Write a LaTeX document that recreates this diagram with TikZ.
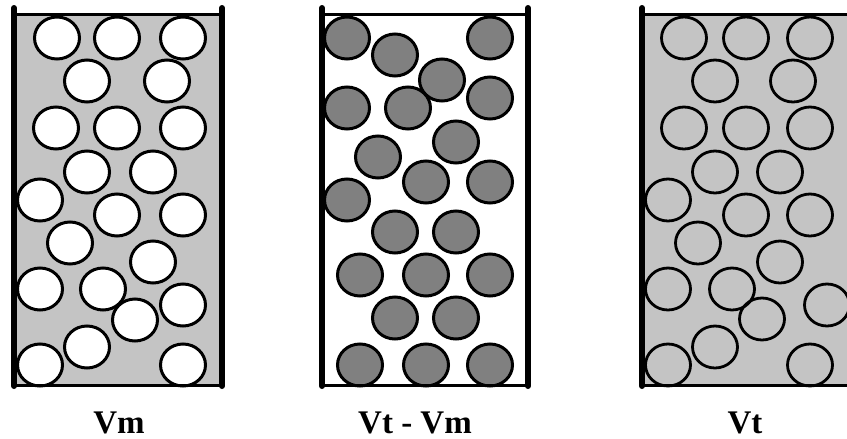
\documentclass[tikz,border=0pt]{standalone}
\usepackage{fontspec}
\setmainfont{Liberation Serif}
\definecolor{liq}{RGB}{196,196,196}
\definecolor{grain}{RGB}{128,128,128}
\begin{document}
\begin{tikzpicture}[x=1pt,y=-1pt,
  wall/.style={line width=6pt,line cap=round},
  rim/.style={line width=3pt},
  hole/.style={draw=black,line width=3pt,fill=white},
  solid/.style={draw=black,line width=3pt,fill=grain},
  ring/.style={draw=black,line width=2.8pt},
  lbl/.style={font=\bfseries\fontsize{33}{34}\selectfont,anchor=base}]
\useasboundingbox (0,0) rectangle (847,439);
% ---------- panel 1 : Vm ----------
\fill[liq] (14,14) rectangle (222,385);
\foreach \x/\y in {57/38,117/38,183/38,87/81,167/81,56/128,117/128,183/128,
  87/172,153/172,40/200,117/215,183/215,70/243,153/262,40/289,103/289,
  183/305,135/320,87/347,40/365,183/365}
  \draw[hole] (\x,\y) ellipse (22.5 and 21);
\draw[rim] (14,14) -- (222,14);
\draw[rim] (14,385) -- (222,385);
\draw[wall] (14,8) -- (14,386);
\draw[wall] (222,8) -- (222,386);
% ---------- panel 2 : Vt - Vm ----------
\foreach \x/\y in {347/38,395/55,490/38,442/80,490/98,347/108,408/108,456/142,
  378/157,426/182,490/182,347/200,395/232,456/232,360/275,426/275,490/275,
  395/318,456/318,360/365,426/365,490/365}
  \draw[solid] (\x,\y) ellipse (22.5 and 21);
\draw[rim] (322,14) -- (528,14);
\draw[rim] (322,385) -- (528,385);
\draw[wall] (322,8) -- (322,386);
\draw[wall] (528,8) -- (528,386);
% ---------- panel 3 : Vt ----------
\fill[liq] (642,14) rectangle (850,385);
\foreach \x/\y in {684/38,746/38,810/38,715/81,793/81,684/128,746/128,810/128,
  715/172,780/172,668/200,746/215,810/215,698/243,780/262,668/289,732/289,
  762/319,827/305,715/347,668/365,810/365}
  \draw[ring] (\x,\y) ellipse (22.5 and 21);
\draw[rim] (642,14) -- (850,14);
\draw[rim] (642,385) -- (850,385);
\draw[wall] (642,8) -- (642,386);
% ---------- labels ----------
\node[lbl] (vm) at (119,433) {Vm};
\node[lbl] (vtvm) at (415,433) {Vt - Vm};
\node[lbl] (vt) at (745,433) {Vt};
\end{tikzpicture}
\end{document}
